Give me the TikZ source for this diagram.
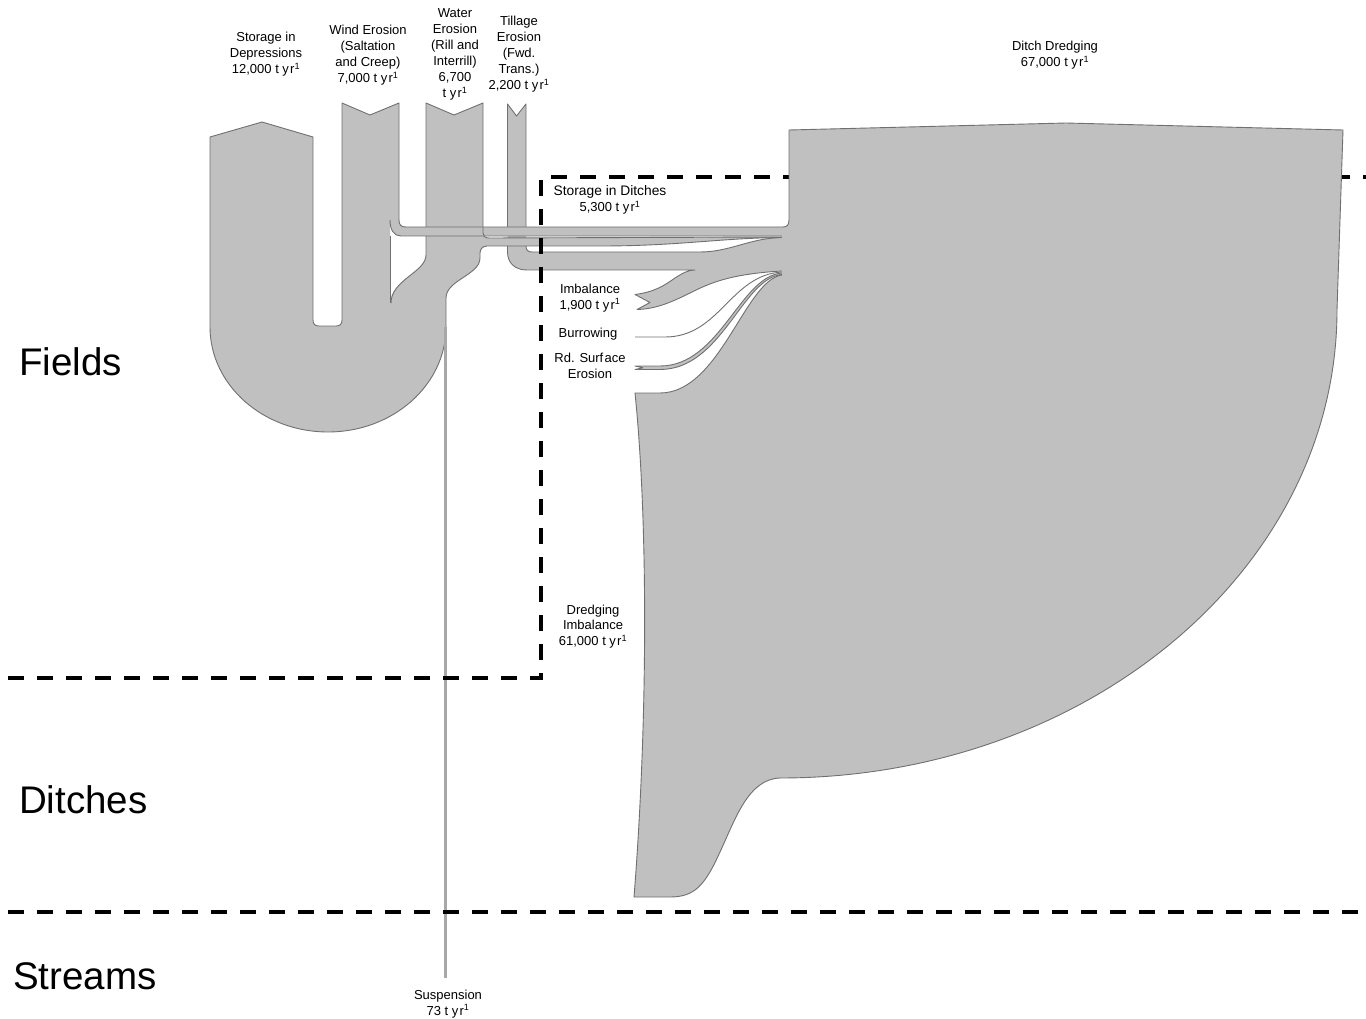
\documentclass[tikz,border=0pt]{standalone}
\usepackage{fontspec}
\setmainfont{Liberation Sans}
\definecolor{flowgray}{RGB}{192,192,192}
\definecolor{edgegray}{RGB}{112,112,112}
\definecolor{suspgray}{RGB}{168,168,168}
\tikzset{
  flowfill/.style={fill=flowgray, draw=none},
  flowline/.style={draw=edgegray, line width=0.9pt, line join=round},
  bigflow/.style={fill=flowgray, draw=edgegray, line width=0.9pt, line join=round},
  zone/.style={draw=black, line width=3.5pt, dash pattern=on 16pt off 13pt},
  lbl/.style={font=\fontsize{13}{16}\selectfont, align=center, inner sep=0pt},
  lbls/.style={font=\fontsize{13}{15.5}\selectfont, align=center, inner sep=0pt},
  biglbl/.style={font=\fontsize{38.5}{40}\selectfont, anchor=west, inner sep=0pt},
}
\newcommand{\tyr}{t y\kern1.2pt r\textsuperscript{1}}
\begin{document}
\begin{tikzpicture}[x=1pt,y=-1pt]
\useasboundingbox (0,0) rectangle (1366,1019);

% ---------- fills ----------
% U structure (depressions, wind, water)
\path[flowfill] (210,137) -- (262,122) -- (313,137) -- (313,320)
  .. controls (313,324) and (315,326) .. (319,326) -- (336,326)
  .. controls (340,326) and (342,324) .. (342,320) -- (342,103) -- (370,115) -- (399,103)
  -- (399,222) -- (390,222) -- (390,303)
  .. controls (391,280) and (426,272) .. (426,255) -- (426,103) -- (454,115) -- (483,103)
  -- (483,246) -- (480,250) -- (480,258)
  .. controls (480,275) and (446,280) .. (446,298) -- (446,327)
  .. controls (446,385) and (393,432) .. (328,432)
  .. controls (263,432) and (210,385) .. (210,327) -- cycle;
% wind band
\path[flowfill] (390,218) -- (399,218) -- (399,220) .. controls (399,225) and (401,227) .. (406,227)
  -- (782,227) -- (782,236) -- (401,236) .. controls (394,236) and (390,230) .. (390,220) -- cycle;
% water band
\path[flowfill] (476,230) -- (483,230) -- (483,233) .. controls (483,236) and (485,238) .. (489,238)
  -- (782,237) -- (782,237.5) .. controls (720,238) and (680,246) .. (600,246) -- (487,246)
  .. controls (483,246) and (480,249) .. (480,253) -- (476,253) -- cycle;
% tillage + imbalance
\path[flowfill] (507.5,104) -- (516.5,116) -- (526,104) -- (526,246)
  .. controls (526,250) and (528,252) .. (532,252) -- (700,252)
  .. controls (730,252) and (750,238) .. (782,237.5) -- (782,271)
  .. controls (730,274) and (710,283) .. (690,293) .. controls (670,303) and (655,309) .. (637,309.5)
  -- (650,302.5) -- (635,294.5)
  .. controls (655,292) and (665,285) .. (675,278) .. controls (683,273) and (688,270) .. (695,270)
  -- (527,270) .. controls (515,270) and (507.5,263) .. (507.5,252) -- cycle;
% road surface erosion
\path[flowfill] (635,366) -- (660,366) .. controls (720,366) and (740,276) .. (782,273)
  -- (782,274.5) .. controls (742,278) and (722,369.5) .. (660,369.5) -- (635,369.5) -- (643,367.8) -- cycle;

% ---------- outlines ----------
\draw[flowline] (210,327) -- (210,137) -- (262,122) -- (313,137) -- (313,320)
  .. controls (313,324) and (315,326) .. (319,326) -- (336,326)
  .. controls (340,326) and (342,324) .. (342,320) -- (342,103) -- (370,115) -- (399,103)
  -- (399,220) .. controls (399,225) and (401,227) .. (406,227) -- (782,227);
\draw[flowline] (210,327) .. controls (210,385) and (263,432) .. (328,432)
  .. controls (393,432) and (446,385) .. (446,327) -- (446,298)
  .. controls (446,280) and (480,275) .. (480,258) -- (480,253)
  .. controls (480,249) and (483,246) .. (487,246) -- (600,246)
  .. controls (680,246) and (720,238) .. (782,237.5);
\draw[flowline] (390,220) .. controls (390,230) and (394,236) .. (401,236) -- (782,236);
\draw[flowline] (390,236) -- (390,303);
\draw[flowline] (426,236) -- (426,255) .. controls (426,272) and (391,280) .. (391,303);
\draw[flowline] (426,227) -- (426,103) -- (454,115) -- (483,103) -- (483,233)
  .. controls (483,236) and (485,238) .. (489,238) -- (782,237);
\draw[flowline] (507.5,227) -- (507.5,104) -- (516.5,116) -- (526,104) -- (526,227);
\draw[flowline] (526,246) .. controls (526,250) and (528,252) .. (532,252) -- (700,252)
  .. controls (730,252) and (750,238) .. (782,237.5);
\draw[flowline] (507.5,246) -- (507.5,252) .. controls (507.5,263) and (515,270) .. (527,270) -- (695,270)
  .. controls (688,270) and (683,273) .. (675,278) .. controls (665,285) and (655,292) .. (635,294.5)
  -- (650,302.5) -- (637,309.5)
  .. controls (655,309) and (670,303) .. (690,293) .. controls (710,283) and (730,274) .. (782,271);
\draw[flowline] (635,337) -- (665,337) .. controls (720,337) and (730,275) .. (782,272);
\draw[flowline] (782,273) .. controls (740,276) and (720,366) .. (660,366) -- (635,366) -- (643,367.8)
  -- (635,369.5) -- (660,369.5) .. controls (722,369.5) and (742,278) .. (782,274.5);

% suspension
\draw[line width=2.2pt, suspgray] (445.5,327) -- (445.5,978);

% ---------- zone boundaries ----------
\draw[zone] (8,678) -- (541,678) -- (541,177) -- (1366,177);
\draw[zone] (8,912) -- (1366,912);

% ---------- ditch dredging ----------
\path[bigflow] (782,227) -- (783,227) .. controls (787,227) and (789,225) .. (789,220) -- (789,130)
  -- (1066,123) -- (1343,130) -- (1337,310)
  .. controls (1337,568.5) and (1087.6,778) .. (780,778)
  .. controls (748,779) and (735,820) .. (720,852)
  .. controls (705,885) and (695,897) .. (670,897) -- (634,897)
  .. controls (648,720) and (648,520) .. (635,393) -- (660,393)
  .. controls (720,393) and (745,280) .. (782,275);

% ---------- labels ----------
\node[lbl] (depr) at (266,54) {Storage in\\Depressions\\12,000 \tyr};
\node[lbl] (wind) at (368,55) {Wind Erosion\\(Saltation\\and Creep)\\7,000 \tyr};
\node[lbl] (water) at (455,54.5) {Water\\Erosion\\(Rill and\\Interrill)\\6,700\\\tyr};
\node[lbl] (till) at (519,54) {Tillage\\Erosion\\(Fwd.\\Trans.)\\2,200 \tyr};
\node[lbl] (dredge) at (1055,55) {Ditch Dredging\\67,000 \tyr};
\node[lbl] (stdit) at (610,200) {{\fontsize{13.8}{16}\selectfont Storage in Ditches}\\5,300 \tyr};
\node[lbls] (imb) at (590,298) {Imbalance\\1,900 \tyr};
\node[lbls] (burr) at (588,334) {Burrowing};
\node[lbls] (rdse) at (590,366) {Rd. Surf\kern1.2pt ace\\Erosion};
\node[lbls] (dimb) at (593,626.5) {Dredging\\Imbalance\\61,000 \tyr};
\node[lbls] (susp) at (448,1004) {Suspension\\73 \tyr};
\node[biglbl] (fields) at (19,362) {Fields};
\node[biglbl] (ditches) at (19,800) {Ditches};
\node[biglbl] (streams) at (13,976) {Streams};
\end{tikzpicture}
\end{document}
